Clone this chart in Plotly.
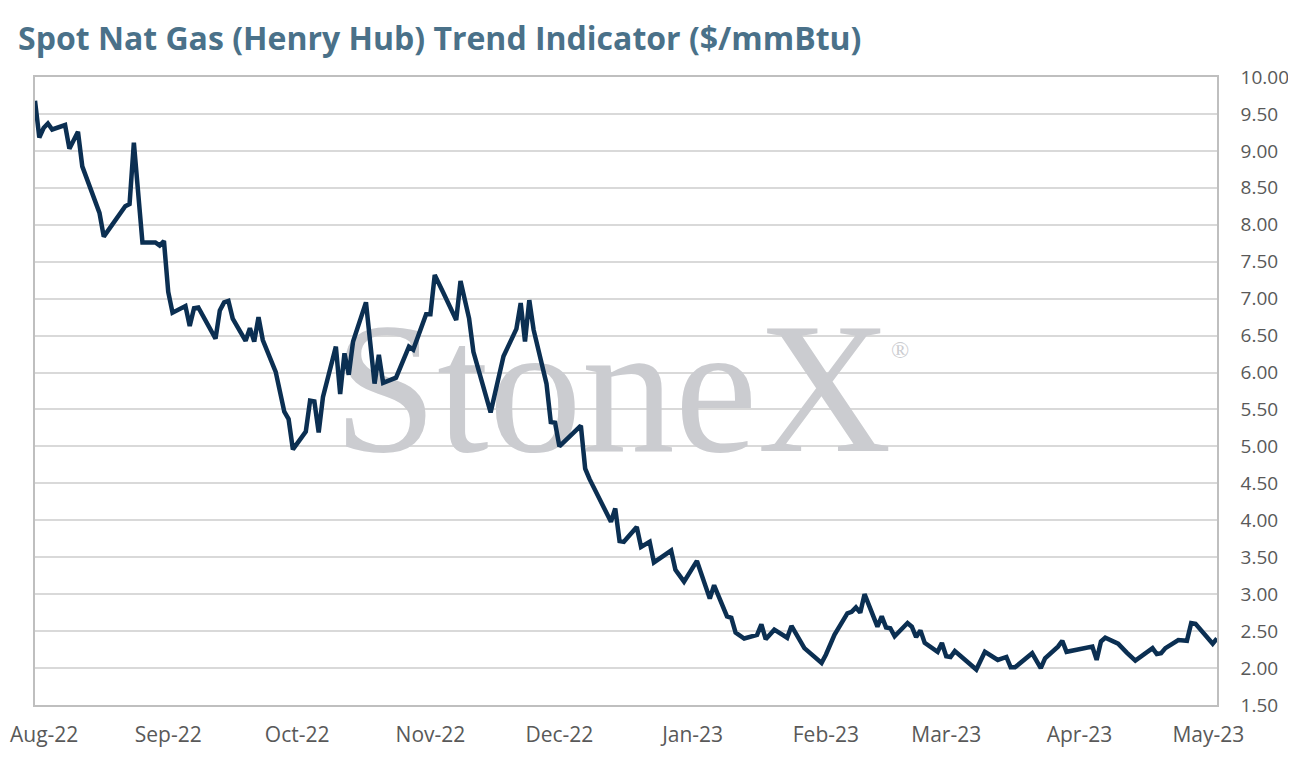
"""
Spot Nat Gas (Henry Hub) trend indicator - line chart recreated with Plotly.
"""

import plotly.graph_objects as go

# Chart data
DATES = [
    '2022-08-01', '2022-08-02', '2022-08-03', '2022-08-04', '2022-08-05',
    '2022-08-08', '2022-08-09', '2022-08-11', '2022-08-12', '2022-08-16',
    '2022-08-17', '2022-08-22', '2022-08-23', '2022-08-24', '2022-08-26',
    '2022-08-29', '2022-08-30', '2022-08-31', '2022-09-01', '2022-09-02',
    '2022-09-05', '2022-09-06', '2022-09-07', '2022-09-08', '2022-09-12',
    '2022-09-13', '2022-09-14', '2022-09-15', '2022-09-16', '2022-09-19',
    '2022-09-20', '2022-09-21', '2022-09-22', '2022-09-23', '2022-09-26',
    '2022-09-28', '2022-09-29', '2022-09-30', '2022-10-03', '2022-10-04',
    '2022-10-05', '2022-10-06', '2022-10-07', '2022-10-08', '2022-10-10',
    '2022-10-11', '2022-10-12', '2022-10-13', '2022-10-14', '2022-10-17',
    '2022-10-19', '2022-10-20', '2022-10-21', '2022-10-24', '2022-10-27',
    '2022-10-28', '2022-10-31', '2022-11-01', '2022-11-02', '2022-11-04',
    '2022-11-07', '2022-11-08', '2022-11-10', '2022-11-11', '2022-11-15',
    '2022-11-18', '2022-11-21', '2022-11-22', '2022-11-23', '2022-11-24',
    '2022-11-25', '2022-11-28', '2022-11-29', '2022-11-30', '2022-12-01',
    '2022-12-06', '2022-12-07', '2022-12-08', '2022-12-13', '2022-12-14',
    '2022-12-15', '2022-12-16', '2022-12-19', '2022-12-20', '2022-12-22',
    '2022-12-23', '2022-12-27', '2022-12-28', '2022-12-30', '2023-01-02',
    '2023-01-05', '2023-01-06', '2023-01-09', '2023-01-10', '2023-01-11',
    '2023-01-13', '2023-01-16', '2023-01-17', '2023-01-18', '2023-01-20',
    '2023-01-23', '2023-01-24', '2023-01-27', '2023-01-31', '2023-02-01',
    '2023-02-03', '2023-02-06', '2023-02-07', '2023-02-08', '2023-02-09',
    '2023-02-10', '2023-02-13', '2023-02-14', '2023-02-15', '2023-02-16',
    '2023-02-17', '2023-02-20', '2023-02-21', '2023-02-22', '2023-02-23',
    '2023-02-24', '2023-02-27', '2023-02-28', '2023-03-01', '2023-03-02',
    '2023-03-03', '2023-03-08', '2023-03-10', '2023-03-13', '2023-03-15',
    '2023-03-16', '2023-03-17', '2023-03-21', '2023-03-23', '2023-03-24',
    '2023-03-27', '2023-03-28', '2023-03-29', '2023-03-31', '2023-04-04',
    '2023-04-05', '2023-04-06', '2023-04-07', '2023-04-10', '2023-04-12',
    '2023-04-14', '2023-04-18', '2023-04-19', '2023-04-20', '2023-04-21',
    '2023-04-24', '2023-04-26', '2023-04-27', '2023-04-28', '2023-05-02',
    '2023-05-03',
]

PRICES = [
    9.68, 9.18, 9.31, 9.37, 9.29,
    9.35, 9.03, 9.26, 8.79, 8.16,
    7.84, 8.25, 8.28, 9.11, 7.76,
    7.76, 7.72, 7.78, 7.09, 6.81,
    6.90, 6.63, 6.87, 6.88, 6.46,
    6.84, 6.95, 6.97, 6.73, 6.43,
    6.60, 6.42, 6.75, 6.44, 6.01,
    5.47, 5.37, 4.96, 5.20, 5.62,
    5.61, 5.19, 5.67, 5.90, 6.35,
    5.71, 6.26, 5.97, 6.42, 6.95,
    5.85, 6.24, 5.86, 5.93, 6.35,
    6.31, 6.79, 6.79, 7.32, 7.08,
    6.71, 7.24, 6.73, 6.28, 5.46,
    6.22, 6.59, 6.94, 6.42, 6.98,
    6.58, 5.85, 5.33, 5.32, 5.00,
    5.28, 4.70, 4.56, 3.98, 4.16,
    3.72, 3.71, 3.91, 3.64, 3.71,
    3.43, 3.59, 3.33, 3.17, 3.45,
    2.94, 3.12, 2.70, 2.68, 2.48,
    2.40, 2.45, 2.59, 2.39, 2.52,
    2.41, 2.57, 2.27, 2.07, 2.18,
    2.45, 2.74, 2.76, 2.82, 2.75,
    3.00, 2.56, 2.70, 2.55, 2.54,
    2.43, 2.61, 2.56, 2.42, 2.51,
    2.34, 2.22, 2.34, 2.16, 2.15,
    2.23, 1.98, 2.22, 2.11, 2.15,
    2.01, 2.01, 2.20, 2.00, 2.13,
    2.29, 2.37, 2.22, 2.24, 2.29,
    2.11, 2.36, 2.41, 2.33, 2.21,
    2.10, 2.27, 2.19, 2.20, 2.27,
    2.38, 2.37, 2.61, 2.60, 2.33,
    2.40,
]

# x axis month ticks
MONTH_TICKS = [
    '2022-08-01', '2022-09-01', '2022-10-01', '2022-11-01', '2022-12-01',
    '2023-01-01', '2023-02-01', '2023-03-01', '2023-04-01', '2023-05-01',
]
MONTH_LABELS = [
    'Aug-22', 'Sep-22', 'Oct-22', 'Nov-22', 'Dec-22',
    'Jan-23', 'Feb-23', 'Mar-23', 'Apr-23', 'May-23',
]

TITLE = 'Spot Nat Gas (Henry Hub) Trend Indicator ($/mmBtu)'
WATERMARK = 'StoneX'

LINE_COLOR = '#0b2f52'
TITLE_COLOR = '#4a7189'
TICK_COLOR = '#595959'
GRID_COLOR = '#d9d9d9'
BORDER_COLOR = '#bfbfbf'
MARK_COLOR = '#cbccd0'

SANS = 'Open Sans, Lato, sans-serif'
SERIF = 'Liberation Serif, Times New Roman, serif'

# page body adds 8px on every side, so the figure is 16px smaller than the window
FIG_W, FIG_H = 1280, 750
MARGIN = dict(l=27, r=71, t=69, b=53)
PLOT_W = FIG_W - MARGIN['l'] - MARGIN['r']

# first label sits on the left edge of the figure; it is drawn as an
# annotation instead so it does not get clipped
tick_text = [''] + MONTH_LABELS[1:]

fig = go.Figure()

# Watermark sits on the hidden base axes so it is drawn beneath the price line
fig.add_trace(go.Scatter(
    x=[0.4886], y=[0.478],
    mode='text',
    text=[WATERMARK],
    textposition='middle center',
    textfont=dict(family=SERIF, size=186, color=MARK_COLOR),
    hoverinfo='skip',
    showlegend=False,
    xaxis='x', yaxis='y',
))
fig.add_trace(go.Scatter(
    x=[0.732], y=[0.562],
    mode='text',
    text=['®'],
    textposition='middle center',
    textfont=dict(family=SERIF, size=24, color=MARK_COLOR),
    hoverinfo='skip',
    showlegend=False,
    xaxis='x', yaxis='y',
))

# Price line
fig.add_trace(go.Scatter(
    x=DATES,
    y=PRICES,
    mode='lines',
    line=dict(color=LINE_COLOR, width=4.5),
    showlegend=False,
    xaxis='x2', yaxis='y2',
))

fig.add_annotation(
    text=MONTH_LABELS[0],
    xref='paper', yref='paper',
    x=-MARGIN['l'] / PLOT_W, y=0,
    xanchor='left', yanchor='top',
    yshift=-13,
    showarrow=False,
    font=dict(family=SANS, size=21, color=TICK_COLOR),
)

fig.update_layout(
    width=FIG_W,
    height=FIG_H,
    margin=MARGIN,
    paper_bgcolor='white',
    plot_bgcolor='white',
    font=dict(family=SANS, color=TICK_COLOR),
    title=dict(
        text=TITLE,
        font=dict(family=SANS, size=32, color=TITLE_COLOR, weight=700),
        xref='container', yref='container',
        x=10 / FIG_W, xanchor='left',
        y=1 - 31 / FIG_H, yanchor='middle',
    ),
    xaxis=dict(range=[0, 1], visible=False, fixedrange=True,
               automargin=False),
    yaxis=dict(range=[0, 1], visible=False, fixedrange=True,
               automargin=False),
    xaxis2=dict(
        overlaying='x',
        type='date',
        range=['2022-08-01', '2023-05-03'],
        tickvals=MONTH_TICKS,
        ticktext=tick_text,
        showgrid=False,
        showline=True,
        mirror=True,
        linecolor=BORDER_COLOR,
        linewidth=1.5,
        ticks='',
        ticklabelstandoff=10,
        ticklabeloverflow='allow',
        tickfont=dict(size=21, color=TICK_COLOR),
        zeroline=False,
        automargin=False,
    ),
    yaxis2=dict(
        overlaying='y',
        side='right',
        range=[1.5, 10],
        dtick=0.5,
        tickformat='.2f',
        showgrid=True,
        gridcolor=GRID_COLOR,
        gridwidth=1.5,
        showline=True,
        mirror=True,
        linecolor=BORDER_COLOR,
        linewidth=1.5,
        ticks='',
        ticklabelstandoff=18,
        ticklabeloverflow='allow',
        tickfont=dict(size=19, color=TICK_COLOR),
        zeroline=False,
        automargin=False,
    ),
)

fig.write_html("out.html")
